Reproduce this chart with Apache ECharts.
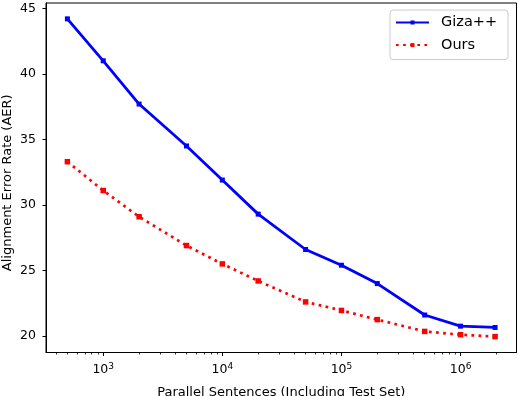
<!DOCTYPE html>
<html>
<head>
<meta charset="utf-8">
<script src="https://cdn.jsdelivr.net/npm/echarts@6/dist/echarts.min.js"></script>
<style>html,body{margin:0;padding:0;background:#fff}#c{width:518px;height:396px}</style>
</head>
<body>
<div id="c"></div>
<script>
// Data
const sentences = [500, 1000, 2000, 5000, 10000, 20000, 50000, 100000, 200000, 500000, 1000000, 1950000];
const gizaAER = [44.2, 41.0, 37.7, 34.5, 31.9, 29.3, 26.6, 25.4, 24.0, 21.6, 20.75, 20.65];
const oursAER = [33.3, 31.1, 29.1, 26.9, 25.5, 24.2, 22.6, 21.95, 21.25, 20.35, 20.1, 19.95];
const xMajorTicks = [1000, 10000, 100000, 1000000];
const yTicks = [20, 25, 30, 35, 40, 45];
const seriesNames = ['Giza++', 'Ours'];

const xMinorTicks = [];
for (let e = 2; e <= 6; e++) {
  for (let m = 2; m <= 9; m++) {
    const v = m * Math.pow(10, e);
    if (v > 331 && v < 2.95e6) xMinorTicks.push(v);
  }
}

const FONT = 'DejaVu Sans';
const chart = echarts.init(document.getElementById('c'), null, {renderer: 'canvas'});
const pairs = (ys) => sentences.map((x, i) => [x, ys[i]]);

chart.setOption({
  animation: false,
  backgroundColor: '#fff',
  grid: {left: 46, right: 1.5, top: 3, bottom: 43.5, show: true, borderColor: '#000', borderWidth: 1, containLabel: false, outerBoundsMode: 'none'},
  legend: {
    data: seriesNames,
    orient: 'vertical',
    left: 390, top: 10,
    padding: [5, 11, 7, 5],
    itemWidth: 33, itemHeight: 5, itemGap: 7.6,
    backgroundColor: 'rgba(255,255,255,0.8)',
    borderColor: '#cccccc', borderWidth: 1, borderRadius: 3,
    textStyle: {fontFamily: FONT, fontSize: 14.5, color: '#000', lineHeight: 14, padding: [0, 0, 0, 7]}
  },
  xAxis: [{
    type: 'log', logBase: 10, min: 330.7, max: 2.95e6,
    name: 'Parallel Sentences (Including Test Set)',
    nameLocation: 'middle', nameGap: 33.5, nameMoveOverlap: false,
    nameTextStyle: {fontFamily: FONT, fontSize: 13, color: '#000'},
    axisLine: {show: true, lineStyle: {color: '#000', width: 1}},
    axisTick: {show: true, length: 3.5, lineStyle: {color: '#000', width: 1}, customValues: xMajorTicks},
    axisLabel: {
      show: true, margin: 10, color: '#000', fontFamily: FONT, fontSize: 12.5,
      customValues: xMajorTicks,
      formatter: (v) => '{b|10}{sup|' + Math.round(Math.log10(v)) + '}',
      rich: {
        b: {fontFamily: FONT, fontSize: 12.5, color: '#000', verticalAlign: 'bottom'},
        sup: {fontFamily: FONT, fontSize: 9, color: '#000', verticalAlign: 'bottom', padding: [0, 0, 5, 0]}
      }
    },
    splitLine: {show: false}
  }, {
    type: 'log', logBase: 10, min: 330.7, max: 2.95e6, position: 'bottom', gridIndex: 0,
    axisLine: {show: false},
    axisTick: {show: true, length: 2, lineStyle: {color: '#000', width: 0.8}, customValues: xMinorTicks},
    axisLabel: {show: false},
    splitLine: {show: false}
  }],
  yAxis: {
    type: 'value', min: 18.74, max: 45.41,
    name: 'Alignment Error Rate (AER)',
    nameLocation: 'middle', nameGap: 31.5, nameMoveOverlap: false,
    nameTextStyle: {fontFamily: FONT, fontSize: 13, color: '#000', padding: [0, 10, 0, 0]},
    axisLine: {show: true, lineStyle: {color: '#000', width: 1}},
    axisTick: {show: true, length: 3.5, lineStyle: {color: '#000', width: 1}, customValues: yTicks},
    axisLabel: {show: true, margin: 10, color: '#000', fontFamily: FONT, fontSize: 12.5, customValues: yTicks},
    splitLine: {show: false}
  },
  series: [{
    name: seriesNames[0], type: 'line', xAxisIndex: 0,
    data: pairs(gizaAER),
    symbol: 'rect', symbolSize: 5,
    itemStyle: {color: '#0000ff'},
    lineStyle: {color: '#0000ff', width: 2.8},
    z: 3
  }, {
    name: seriesNames[1], type: 'line', xAxisIndex: 0,
    data: pairs(oursAER),
    symbol: 'rect', symbolSize: 5.5,
    itemStyle: {color: '#ff0000'},
    lineStyle: {color: '#ff0000', width: 2.7, type: [2.7, 4.4]},
    z: 2
  }]
});
</script>
</body>
</html>
